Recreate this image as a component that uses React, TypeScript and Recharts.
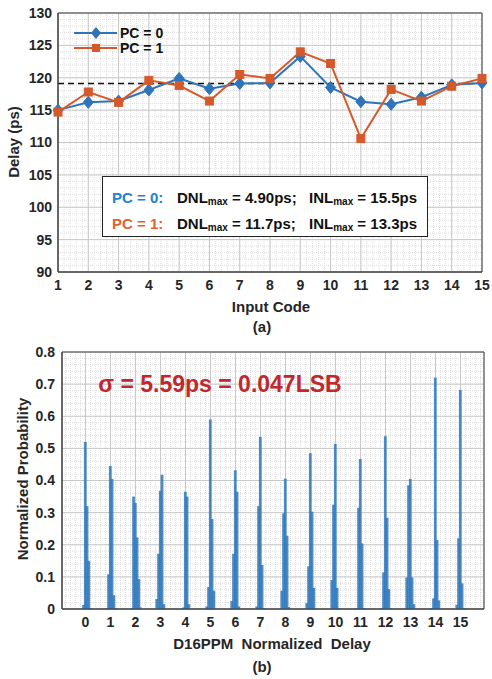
import {
  Bar,
  BarChart,
  CartesianGrid,
  Line,
  LineChart,
  ReferenceArea,
  ReferenceLine,
  XAxis,
  YAxis,
} from "recharts"

// (a) delay per input code
const INPUT_CODES = [1, 2, 3, 4, 5, 6, 7, 8, 9, 10, 11, 12, 13, 14, 15]
const DELAY_PC0 = [115.0, 116.2, 116.4, 118.1, 119.9, 118.3, 119.1, 119.2, 123.3, 118.5, 116.3, 115.9, 117.0, 118.9, 119.2]
const DELAY_PC1 = [114.7, 117.8, 116.2, 119.6, 118.8, 116.4, 120.5, 119.9, 124.0, 122.2, 110.6, 118.2, 116.4, 118.7, 119.9]
const DELAY_MEAN = 119.1
const DELAY_TICKS = [90, 95, 100, 105, 110, 115, 120, 125, 130]

// (b) histogram of normalized delay, bins around each code
const HIST_CODES = [0, 1, 2, 3, 4, 5, 6, 7, 8, 9, 10, 11, 12, 13, 14, 15]
const BIN_OFFSETS = [-0.14, -0.07, 0, 0.07, 0.14, 0.21]
const HIST_VALUES = [
  [0, 0.013, 0.52, 0.32, 0.15, 0.003],
  [0.003, 0.108, 0.445, 0.405, 0.043, 0.003],
  [0.003, 0.35, 0.33, 0.223, 0.093, 0.005],
  [0.031, 0.172, 0.368, 0.418, 0.015, 0],
  [0, 0.005, 0.365, 0.35, 0.015, 0],
  [0.008, 0.068, 0.59, 0.28, 0.057, 0],
  [0.025, 0.172, 0.432, 0.365, 0.008, 0],
  [0.008, 0.32, 0.536, 0.137, 0.003, 0],
  [0.057, 0.298, 0.406, 0.228, 0.006, 0],
  [0.018, 0.133, 0.485, 0.303, 0.066, 0],
  [0.09, 0.325, 0.514, 0.066, 0.003, 0],
  [0.003, 0.315, 0.467, 0.204, 0.003, 0],
  [0.003, 0.114, 0.538, 0.284, 0.062, 0.003],
  [0.098, 0.385, 0.405, 0.098, 0.015, 0],
  [0.003, 0.033, 0.72, 0.215, 0.027, 0],
  [0.013, 0.22, 0.682, 0.08, 0.003, 0],
]
const PROB_TICKS = [0, 0.1, 0.2, 0.3, 0.4, 0.5, 0.6, 0.7, 0.8]
const PROB_LABELS = ["0", "0.1", "0.2", "0.3", "0.4", "0.5", "0.6", "0.7", "0.8"]

const FONT = "'Liberation Sans', Arial, sans-serif"
const BLUE = "#2F74BA"
const ORANGE = "#D45A2C"
const BAR_BLUE = "#2F78BC"
const TICK_STYLE = { fontSize: 14, fontWeight: 700, fill: "#262626", fontFamily: FONT }

const lineData = INPUT_CODES.map((code, i) => ({
  code,
  pc0: DELAY_PC0[i],
  pc1: DELAY_PC1[i],
}))

const histData = HIST_CODES.flatMap((code, i) =>
  BIN_OFFSETS.map((off, j) => ({ x: code + off, p: HIST_VALUES[i][j] }))
).filter((d) => d.p > 0)

function steps(from: number, to: number, step: number) {
  const out: number[] = []
  for (let v = from; v <= to + 1e-9; v += step) out.push(Math.round(v * 1000) / 1000)
  return out
}

function scaleOf(axis: any, v: number) {
  const s = axis?.scale
  if (typeof s === "function") return s(v)
  if (s && typeof s.map === "function") return s.map(v)
  return 0
}

const diamond = (props: any) => {
  const { cx, cy, index } = props
  return (
    <path
      key={`d-${index}`}
      d={`M${cx},${cy - 6} L${cx + 5},${cy} L${cx},${cy + 6} L${cx - 5},${cy} Z`}
      fill={BLUE}
      stroke={BLUE}
    />
  )
}

const square = (props: any) => {
  const { cx, cy, index } = props
  return (
    <rect
      key={`s-${index}`}
      x={cx - 4}
      y={cy - 4}
      width={8}
      height={8}
      fill={ORANGE}
      stroke={ORANGE}
    />
  )
}

// thin histogram bin, centred on its x value
const histBin = (props: any) => {
  const { x, y, width, height } = props
  if (!height || height <= 0) return <g />
  return (
    <rect
      x={x + width / 2 - 1.4}
      y={y}
      width={2.8}
      height={height}
      fill={BAR_BLUE}
      fillOpacity={0.85}
    />
  )
}

function Txt({ x, y, size = 15, color = "#262626", rotate = 0, children }: any) {
  return (
    <div
      style={{
        position: "absolute",
        left: x,
        top: y,
        transform: `translate(-50%, -50%) rotate(${rotate}deg)`,
        fontSize: size,
        fontWeight: 700,
        color,
        whiteSpace: "pre",
        lineHeight: 1,
      }}
    >
      {children}
    </div>
  )
}

function Sub({ children }: any) {
  return (
    <span style={{ fontSize: 10, position: "relative", top: 2 }}>{children}</span>
  )
}

function NoteRow({ y, label, color, dnl, inl }: any) {
  const base = {
    position: "absolute" as const,
    top: y,
    transform: "translateY(-50%)",
    fontSize: 15,
    fontWeight: 700,
    whiteSpace: "pre" as const,
    lineHeight: 1,
  }
  return (
    <>
      <div style={{ ...base, left: 112, color }}>{label}</div>
      <div style={{ ...base, left: 177, color: "#111" }}>
        DNL<Sub>max</Sub> = {dnl}ps;
      </div>
      <div style={{ ...base, left: 309, color: "#111" }}>
        INL<Sub>max</Sub> = {inl}ps
      </div>
    </>
  )
}

export default function App() {
  const minorX = steps(1, 15, 0.2)
  const minorY = steps(90, 130, 1)
  const histMinorX = steps(-0.8, 15.8, 0.2)
  const histMinorY = steps(0, 0.8, 0.02)

  return (
    <div
      style={{
        position: "absolute",
        left: 0,
        top: 0,
        width: 492,
        height: 679,
        background: "#fff",
        fontFamily: FONT,
        overflow: "hidden",
      }}
    >
      <div style={{ position: "absolute", left: 0, top: 0 }}>
        <LineChart
          width={492}
          height={300}
          data={lineData}
          margin={{ top: 13, right: 10, bottom: 0, left: 8 }}
        >
          <CartesianGrid
            stroke="#dedede"
            strokeDasharray="1 1"
            verticalCoordinatesGenerator={({ xAxis }: any) => minorX.map((v) => scaleOf(xAxis, v))}
            horizontalCoordinatesGenerator={({ yAxis }: any) => minorY.map((v) => scaleOf(yAxis, v))}
          />
          <CartesianGrid stroke="#c8c8c8" />
          <XAxis
            type="number"
            dataKey="code"
            domain={[1, 15]}
            ticks={INPUT_CODES}
            interval={0}
            height={28}
            tickSize={0}
            tickMargin={8}
            axisLine={{ stroke: "#404040" }}
            tick={TICK_STYLE}
          />
          <YAxis
            type="number"
            domain={[90, 130]}
            ticks={DELAY_TICKS}
            interval={0}
            width={50}
            tickSize={0}
            tickMargin={6}
            axisLine={{ stroke: "#404040" }}
            tick={TICK_STYLE}
          />
          <ReferenceLine
            y={DELAY_MEAN}
            stroke="#111"
            strokeWidth={1.5}
            strokeDasharray="6 4"
          />
          <Line
            dataKey="pc0"
            stroke={BLUE}
            strokeWidth={2}
            dot={diamond}
            activeDot={false}
            isAnimationActive={false}
          />
          <Line
            dataKey="pc1"
            stroke={ORANGE}
            strokeWidth={2}
            dot={square}
            activeDot={false}
            isAnimationActive={false}
          />
          <ReferenceArea
            x1={1}
            x2={15}
            y1={90}
            y2={130}
            fill="none"
            stroke="#404040"
            strokeWidth={1}
          />
        </LineChart>
      </div>

      {/* legend */}
      <svg style={{ position: "absolute", left: 70, top: 24 }} width={50} height={32}>
        <line x1={4} y1={9} x2={47} y2={9} stroke={BLUE} strokeWidth={2} />
        <path d="M26,3 L31,9 L26,15 L21,9 Z" fill={BLUE} />
        <line x1={4} y1={24} x2={47} y2={24} stroke={ORANGE} strokeWidth={2} />
        <rect x={22} y={20} width={8} height={8} fill={ORANGE} />
      </svg>
      <div style={{ position: "absolute", left: 120, top: 33, transform: "translateY(-50%)", fontSize: 14, fontWeight: 700, color: "#111", lineHeight: 1 }}>
        PC = 0
      </div>
      <div style={{ position: "absolute", left: 120, top: 48, transform: "translateY(-50%)", fontSize: 14, fontWeight: 700, color: "#111", lineHeight: 1 }}>
        PC = 1
      </div>

      {/* annotation box */}
      <div
        style={{
          position: "absolute",
          left: 102,
          top: 176,
          width: 324,
          height: 59,
          border: "1.5px solid #222",
          background: "#fff",
        }}
      />
      <NoteRow y={197} label="PC = 0:" color="#2681CF" dnl="4.90" inl="15.5" />
      <NoteRow y={223} label="PC = 1:" color="#E0622F" dnl="11.7" inl="13.3" />

      <Txt x={13} y={142} rotate={-90}>Delay (ps)</Txt>
      <Txt x={271} y={306}>Input Code</Txt>
      <Txt x={262} y={326}>(a)</Txt>

      <div style={{ position: "absolute", left: 0, top: 330 }}>
        <BarChart
          width={492}
          height={320}
          data={histData}
          margin={{ top: 22, right: 8, bottom: 0, left: 8 }}
          barGap={0}
        >
          <CartesianGrid
            stroke="#dedede"
            strokeDasharray="1 1"
            verticalCoordinatesGenerator={({ xAxis }: any) => histMinorX.map((v) => scaleOf(xAxis, v))}
            horizontalCoordinatesGenerator={({ yAxis }: any) => histMinorY.map((v) => scaleOf(yAxis, v))}
          />
          <CartesianGrid stroke="#c8c8c8" />
          <XAxis
            type="number"
            dataKey="x"
            domain={[-0.94, 15.94]}
            allowDataOverflow
            ticks={HIST_CODES}
            interval={0}
            height={41}
            tickSize={0}
            tickMargin={8}
            axisLine={{ stroke: "#404040" }}
            tick={TICK_STYLE}
          />
          <YAxis
            type="number"
            domain={[0, 0.8]}
            ticks={PROB_TICKS}
            tickFormatter={(v: number) => PROB_LABELS[PROB_TICKS.indexOf(v)] ?? String(v)}
            interval={0}
            width={54}
            tickSize={0}
            tickMargin={7}
            axisLine={{ stroke: "#404040" }}
            tick={TICK_STYLE}
          />
          <Bar
            dataKey="p"
            fill={BAR_BLUE}
            shape={histBin}
            isAnimationActive={false}
          />
          <ReferenceArea
            x1={-0.94}
            x2={15.94}
            y1={0}
            y2={0.8}
            fill="none"
            stroke="#404040"
            strokeWidth={1}
          />
        </BarChart>
      </div>

      <Txt x={220} y={384} size={23} color="#C1272D">σ = 5.59ps = 0.047LSB</Txt>
      <Txt x={22} y={479} rotate={-90}>Normalized Probability</Txt>
      <Txt x={272} y={643}>D16PPM  Normalized  Delay</Txt>
      <Txt x={262} y={666}>(b)</Txt>
    </div>
  )
}
